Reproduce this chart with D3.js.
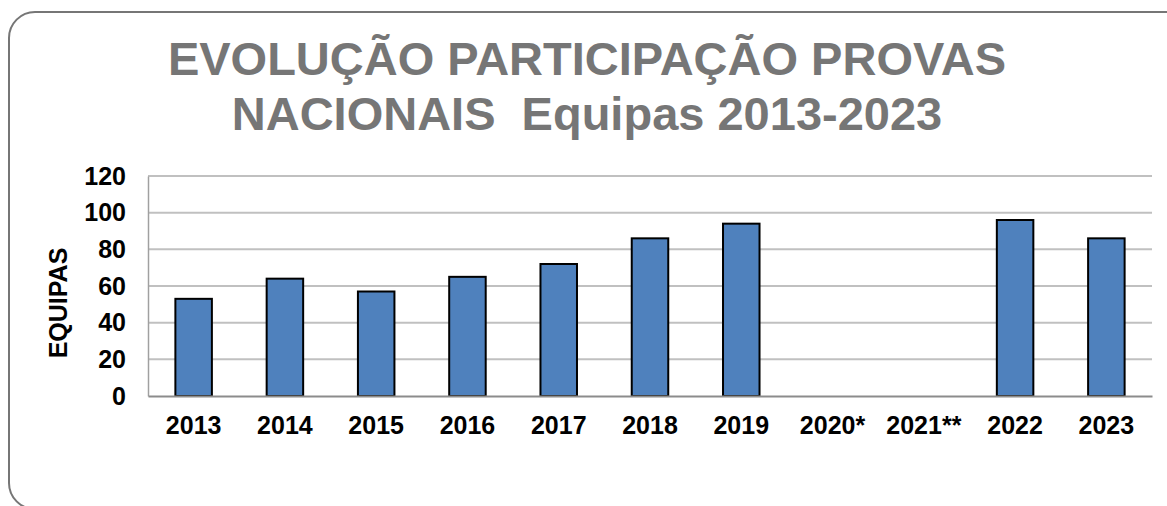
<!DOCTYPE html>
<html>
<head>
<meta charset="utf-8">
<script src="https://cdn.jsdelivr.net/npm/d3@7"></script>
<style>
  body { margin: 0; background: #fff; }
  text { font-family: "Liberation Sans", Arial, sans-serif; font-weight: bold; }
</style>
</head>
<body>
<div id="chart"></div>
<script>
var years = ["2013", "2014", "2015", "2016", "2017", "2018", "2019", "2020*", "2021**", "2022", "2023"];
var equipas = [53, 64, 57, 65, 72, 86, 94, 0, 0, 96, 86];
var yTicks = [0, 20, 40, 60, 80, 100, 120];
var titleLines = ["EVOLUÇÃO PARTICIPAÇÃO PROVAS", "NACIONAIS  Equipas 2013-2023"];

var W = 1167, H = 506;
var svg = d3.select("#chart").append("svg").attr("width", W).attr("height", H);

// outer frame
svg.append("rect")
  .attr("x", 9).attr("y", 12)
  .attr("width", 1200).attr("height", 497)
  .attr("rx", 26).attr("ry", 26)
  .style("fill", "#fff")
  .style("stroke", "#767676")
  .style("stroke-width", 2);

// title
svg.selectAll("title_text")
  .data(titleLines)
  .enter()
  .append("text")
  .attr("x", 587)
  .attr("y", function (d, i) { return 75 + i * 55; })
  .attr("text-anchor", "middle")
  .style("font-size", "47px")
  .style("white-space", "pre")
  .style("fill", "#767676")
  .text(function (d) { return d; });

var pLeft = 148, pRight = 1152, pTop = 176, pBottom = 396;

var x = d3.scaleBand().domain(years).range([pLeft, pRight]).paddingInner(0.6).paddingOuter(0.3);
var y = d3.scaleLinear().domain([0, 120]).range([pBottom, pTop]);

// gridlines
svg.append("g")
  .selectAll("line")
  .data(yTicks.filter(function (d) { return d > 0; }))
  .enter()
  .append("line")
  .attr("x1", pLeft).attr("x2", pRight)
  .attr("y1", function (d) { return y(d); })
  .attr("y2", function (d) { return y(d); })
  .style("stroke", "#c0c0c0")
  .style("stroke-width", 2);

// y axis
var yAxis = svg.append("g")
  .attr("transform", "translate(" + pLeft + ",0)")
  .call(d3.axisLeft(y).tickValues(yTicks).tickSize(0).tickPadding(22));
yAxis.select(".domain").style("stroke", "#a0a0a0").style("stroke-width", 1.5);
yAxis.selectAll("text")
  .style("font-size", "25px")
  .style("fill", "#000")
  .style("font-family", "'Liberation Sans', Arial, sans-serif");

// bars
svg.append("g")
  .selectAll("rect")
  .data(equipas.map(function (v, i) { return { year: years[i], value: v }; }).filter(function (d) { return d.value > 0; }))
  .enter()
  .append("rect")
  .attr("x", function (d) { return x(d.year); })
  .attr("y", function (d) { return y(d.value); })
  .attr("width", x.bandwidth())
  .attr("height", function (d) { return pBottom - y(d.value); })
  .style("fill", "#4f81bd")
  .style("stroke", "#000")
  .style("stroke-width", 2);

// x axis
var xAxis = svg.append("g")
  .attr("transform", "translate(0," + pBottom + ")")
  .call(d3.axisBottom(x).tickSize(0).tickPadding(20));
xAxis.select(".domain").style("stroke", "#8c8c8c").style("stroke-width", 2);
xAxis.selectAll("text")
  .style("font-size", "25px")
  .style("fill", "#000")
  .style("font-family", "'Liberation Sans', Arial, sans-serif");

// y title
svg.append("text")
  .attr("transform", "translate(67,303) rotate(-90)")
  .attr("text-anchor", "middle")
  .style("font-size", "25px")
  .style("fill", "#000")
  .text("EQUIPAS");
</script>
</body>
</html>
